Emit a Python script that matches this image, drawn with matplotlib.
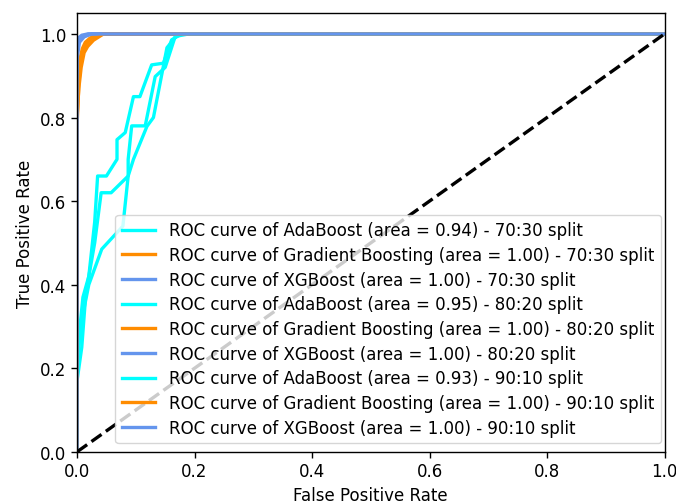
import numpy as np
import matplotlib
matplotlib.use("Agg")
import matplotlib.pyplot as plt

plt.rcParams['font.size'] = 12

# ROC points, one split at a time
splits = ["70:30", "80:20", "90:10"]
models = ["AdaBoost", "Gradient Boosting", "XGBoost"]
colors = ["aqua", "darkorange", "cornflowerblue"]

areas = {
    "70:30": [0.94, 1.00, 1.00],
    "80:20": [0.95, 1.00, 1.00],
    "90:10": [0.93, 1.00, 1.00],
}

ada_fpr = {
    "70:30": [0, 0, 0.005, 0.01, 0.02, 0.03, 0.035, 0.05, 0.068, 0.068, 0.082,
              0.096, 0.107, 0.127, 0.147, 0.161, 0.178, 0.2, 1.0],
    "80:20": [0, 0, 0.008, 0.015, 0.03, 0.041, 0.058, 0.087, 0.087, 0.093,
              0.116, 0.133, 0.15, 0.167, 0.19, 1.0],
    "90:10": [0, 0, 0.01, 0.02, 0.042, 0.078, 0.087, 0.096, 0.119, 0.13,
              0.153, 0.172, 0.21, 1.0],
}
ada_tpr = {
    "70:30": [0, 0.2, 0.3, 0.37, 0.42, 0.55, 0.66, 0.66, 0.70, 0.747, 0.764,
              0.85, 0.85, 0.926, 0.93, 0.986, 1.0, 1.0, 1.0],
    "80:20": [0, 0.17, 0.25, 0.38, 0.5, 0.62, 0.62, 0.66, 0.70, 0.78, 0.78,
              0.898, 0.92, 0.994, 1.0, 1.0],
    "90:10": [0, 0.22, 0.33, 0.40, 0.485, 0.54, 0.66, 0.70, 0.779, 0.80,
              0.967, 1.0, 1.0, 1.0],
}

gb_fpr = {
    "70:30": [0, 0, 0.003, 0.006, 0.01, 0.015, 0.025, 0.04, 1.0],
    "80:20": [0, 0, 0.002, 0.005, 0.009, 0.014, 0.022, 0.035, 1.0],
    "90:10": [0, 0, 0.003, 0.007, 0.012, 0.018, 0.028, 0.045, 1.0],
}
gb_tpr = {
    "70:30": [0, 0.78, 0.88, 0.93, 0.96, 0.975, 0.99, 1.0, 1.0],
    "80:20": [0, 0.82, 0.90, 0.94, 0.965, 0.98, 0.99, 1.0, 1.0],
    "90:10": [0, 0.80, 0.87, 0.92, 0.955, 0.97, 0.985, 1.0, 1.0],
}

xgb_fpr = {
    "70:30": [0, 0, 0.003, 0.01, 0.02, 1.0],
    "80:20": [0, 0, 0.002, 0.008, 0.018, 1.0],
    "90:10": [0, 0, 0.004, 0.012, 0.025, 1.0],
}
xgb_tpr = {
    "70:30": [0, 0.95, 0.985, 0.995, 1.0, 1.0],
    "80:20": [0, 0.96, 0.99, 0.997, 1.0, 1.0],
    "90:10": [0, 0.94, 0.98, 0.993, 1.0, 1.0],
}

fig = plt.figure(figsize=(6.76, 5.02), dpi=100)
ax = fig.add_subplot(111)
fig.subplots_adjust(left=0.114, right=0.983, top=0.972, bottom=0.098)

for s in splits:
    curves = [(ada_fpr[s], ada_tpr[s]), (gb_fpr[s], gb_tpr[s]), (xgb_fpr[s], xgb_tpr[s])]
    for i in range(3):
        ax.plot(curves[i][0], curves[i][1], color=colors[i], lw=2.4,
                label="ROC curve of %s (area = %.2f) - %s split" % (models[i], areas[s][i], s))

ax.plot([0, 1], [0, 1], "k--", lw=2.4)
ax.set_xlim([0.0, 1.0])
ax.set_ylim([0.0, 1.05])
ax.set_xlabel("False Positive Rate")
ax.set_ylabel("True Positive Rate")
ax.tick_params(length=4.2, width=1)
for sp in ax.spines.values():
    sp.set_linewidth(1)
ax.legend(loc="lower right", labelspacing=0.4, bbox_to_anchor=(1.008, 0.0))

fig.savefig("out.png", dpi=100)
